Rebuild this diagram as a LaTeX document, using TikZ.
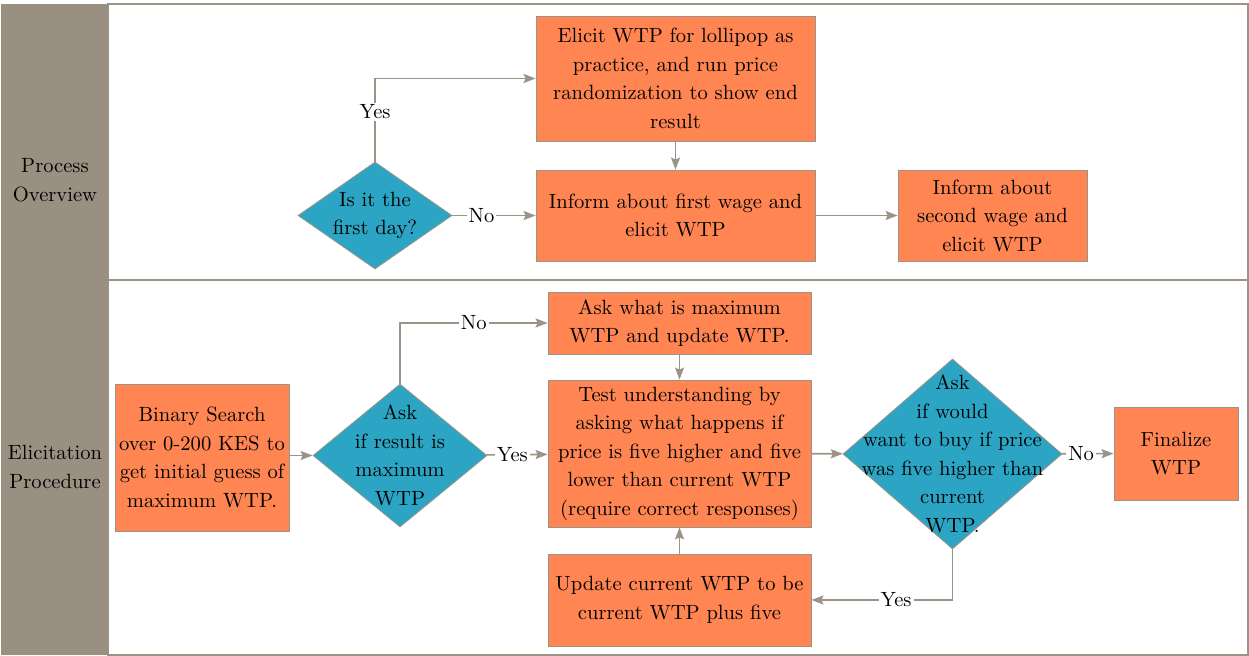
\documentclass[tikz,border=0pt]{standalone}
\usepackage{tikz}
\usetikzlibrary{arrows.meta}
\usetikzlibrary{shapes.geometric}
\usetikzlibrary{positioning}
\definecolor{lanegray}{RGB}{154,144,130}
\definecolor{linegray}{RGB}{155,147,135}
\definecolor{boxorange}{RGB}{255,133,82}
\definecolor{decblue}{RGB}{44,165,196}

\begin{document}
\begin{tikzpicture}[x=0.5pt, y=-0.5pt,
    every node/.style={font=\fontsize{10.3}{14.25}\selectfont},
    box/.style={draw=linegray, fill=boxorange, align=center, inner sep=0pt},
    decision/.style={diamond, draw=linegray, fill=decblue, inner sep=0pt},
    dtext/.style={align=center, inner sep=0pt},
    flow/.style={draw=linegray, thick, -{Stealth[length=6pt, width=4.5pt, inset=1pt]}},
    lbl/.style={fill=white, inner sep=1pt}]
    \useasboundingbox (0,0) rectangle (1249,656);

    % lanes
    \draw[linegray, thick] (108,4) rectangle (1248,280);
    \draw[linegray, thick] (108,280) rectangle (1248,655);
    \fill[lanegray] (1,4) rectangle (108,655);
    \node[align=center] (laneA) at (55,180) {Process\\Overview};
    \node[align=center] (laneB) at (55,467) {Elicitation\\Procedure};

    % process overview
    \node[box, minimum width=139.5pt, minimum height=62.5pt] (lolli) at (675.5,78.5) {Elicit WTP for lollipop as\\practice, and run price\\randomization to show end\\result};
    \node[box, minimum width=139.5pt, minimum height=45.5pt] (inf1) at (675.5,215.5) {Inform about first wage and\\elicit WTP};
    \node[box, minimum width=94.5pt, minimum height=45.5pt] (inf2) at (992.5,215.5) {Inform about\\second wage and\\elicit WTP};
    \node[decision, minimum width=77pt, minimum height=53.5pt] (d1) at (375,215.5) {};
    \node[dtext] (d1t) at (d1) {Is it the\\first day?};

    \draw[flow] (d1) |- node[pos=0.3, lbl]{Yes} (lolli);
    \draw[flow] (d1) -- node[pos=0.35, lbl]{No} (inf1);
    \draw[flow] (lolli) -- (inf1);
    \draw[flow] (inf1) -- (inf2);

    % elicitation procedure
    \node[box, minimum width=87pt, minimum height=73.5pt] (bin) at (202,457.5) {Binary Search\\over 0-200 KES to\\get initial guess of\\maximum WTP.};
    \node[decision, minimum width=87pt, minimum height=71.5pt] (d2) at (400,455.5) {};
    \node[dtext] (d2t) at (d2) {Ask\\if result is\\maximum\\WTP};
    \node[box, minimum width=131.5pt, minimum height=31pt] (askmax) at (679.5,323) {Ask what is maximum\\WTP and update WTP.};
    \node[box, minimum width=131.5pt, minimum height=73.5pt] (test) at (679.5,453.5) {Test understanding by\\asking what happens if\\price is five higher and five\\lower than current WTP\\(require correct responses)};
    \node[box, minimum width=131.5pt, minimum height=46pt] (upd) at (679.5,600) {Update current WTP to be\\current WTP plus five};
    \node[decision, minimum width=109.5pt, minimum height=95pt] (d3) at (952.5,454) {};
    \node[dtext] (d3t) at (d3) {Ask\\if would\\want to buy if price\\was five higher than\\current\\WTP.};
    \node[box, minimum width=62pt, minimum height=46.5pt] (fin) at (1176,453.5) {Finalize\\WTP};

    \draw[flow] (bin.east |- d2.west) -- (d2);
    \draw[flow] (d2) |- node[pos=0.75, lbl]{No} (askmax);
    \draw[flow] (d2) -- node[pos=0.42, lbl]{Yes} (test);
    \draw[flow] (askmax) -- (test);
    \draw[flow] (upd) -- (test);
    \draw[flow] (test) -- (d3);
    \draw[flow] (d3) -- node[pos=0.37, lbl]{No} (fin);
    \draw[flow] (d3) |- node[pos=0.7, lbl]{Yes} (upd);
\end{tikzpicture}
\end{document}
